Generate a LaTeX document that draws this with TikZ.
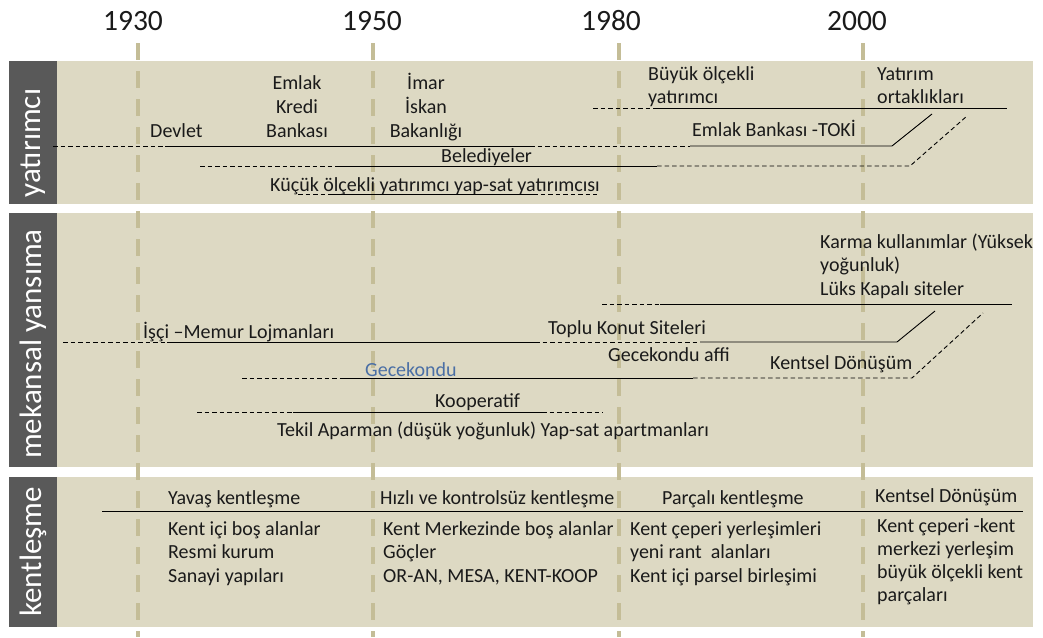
\documentclass[tikz,border=0pt]{standalone}
\usepackage{fontspec}
\setmainfont{Carlito}
\definecolor{panelc}{HTML}{DDD9C3}
\definecolor{darkc}{HTML}{595959}
\definecolor{gridc}{HTML}{C4BD97}
\definecolor{txtc}{HTML}{1A1A1A}
\definecolor{gecec}{HTML}{4A6FA5}
\begin{document}
\begin{tikzpicture}[x=1pt,y=-1pt,
  txt/.style={inner sep=0pt, font=\fontsize{20}{24}\selectfont, text=txtc},
  tl/.style={txt, anchor=base west},
  tc/.style={txt, anchor=base},
  sl/.style={line width=0.9pt, draw=black},
  dl/.style={line width=0.9pt, draw=black, dash pattern=on 4.5pt off 3pt},
  gridline/.style={line width=3.5pt, draw=gridc, dash pattern=on 17pt off 11pt},
  side/.style={inner sep=0pt, rotate=90, text=white, font=\fontsize{31}{36}\selectfont},
  yr/.style={inner sep=0pt, anchor=base, font=\fontsize{29.5}{34}\selectfont, text=txtc}]
\fill[white] (0,0) rectangle (1043,637);
\useasboundingbox (0,0) rectangle (1043,637);
% panels
\fill[panelc] (9,61) rectangle (1033,204);
\fill[panelc] (9,213) rectangle (1033,467);
\fill[panelc] (9,477) rectangle (1033,627);
\fill[darkc] (9,61) rectangle (57,204);
\fill[darkc] (9,213) rectangle (57,467);
\fill[darkc] (9,477) rectangle (57,627);
\node[side] (s1) at (33,143) {yatırımcı};
\node[side] (s2) at (33,344) {mekansal yansıma};
\node[side] (s3) at (33,552) {kentleşme};
% years
\node[yr] (y1930) at (133,30) {1930};
\node[yr] (y1950) at (372,30) {1950};
\node[yr] (y1980) at (611,30) {1980};
\node[yr] (y2000) at (857,30) {2000};
% grid
\foreach \gx in {138,373,619,863}{\draw[gridline] (\gx,43) -- (\gx,637);}
% ---- top panel lines
\draw[dl] (53,146) -- (165,146);
\draw[sl] (165,146) -- (530,146);
\draw[dl] (530,146) -- (690,146);
\draw[sl] (690,146) -- (892,146) -- (932,114);
\draw[dl] (200,166) -- (335,166);
\draw[sl] (335,166) -- (657,166);
\draw[dl] (657,166) -- (910,166) -- (967,116);
\draw[dl] (298,194) -- (328,194);
\draw[sl] (328,194) -- (533,194);
\draw[dl] (533,194) -- (597,194);
\draw[dl] (593,108) -- (657,108);
\draw[sl] (657,108) -- (1007,108);
% ---- middle panel lines
\draw[dl] (602,304) -- (660,304);
\draw[sl] (660,304) -- (1012,304);
\draw[dl] (63,342) -- (167,342);
\draw[sl] (167,342) -- (535,342);
\draw[dl] (535,342) -- (700,342);
\draw[sl] (700,342) -- (897,342) -- (935,311);
\draw[dl] (242,378) -- (340,378);
\draw[sl] (340,378) -- (693,378);
\draw[dl] (693,378) -- (912,378) -- (983,313);
\draw[dl] (197,412) -- (293,412);
\draw[sl] (293,412) -- (542,412);
\draw[dl] (542,412) -- (603,412);
% ---- bottom panel line
\draw[sl] (102,511) -- (1023,511);
% ---- top texts
\node[tc] (emlak1) at (297,89) {Emlak};
\node[tc] (emlak2) at (297,113) {Kredi};
\node[tc] (emlak3) at (297,137) {Bankası};
\node[tc] (imar1) at (426,89) {İmar};
\node[tc] (imar2) at (426,113) {İskan};
\node[tc] (imar3) at (426,137) {Bakanlığı};
\node[tl] (devlet) at (150,137) {Devlet};
\node[tl] (buyuk1) at (648,80) {Büyük ölçekli};
\node[tl] (buyuk2) at (648,103) {yatırımcı};
\node[tl] (yat1) at (877,80) {Yatırım};
\node[tl] (yat2) at (877,103) {ortaklıkları};
\node[tl] (toki) at (692,136) {Emlak Bankası -TOKİ};
\node[tl] (beled) at (441,162.5) {Belediyeler};
\node[tl] (kucuk) at (270,191) {Küçük ölçekli yatırımcı yap-sat yatırımcısı};
% ---- middle texts
\node[tl] (karma1) at (820,248) {Karma kullanımlar (Yüksek};
\node[tl] (karma2) at (820,271.5) {yoğunluk)};
\node[tl] (karma3) at (820,295) {Lüks Kapalı siteler};
\node[tl] (isci) at (143,338) {İşçi –Memur Lojmanları};
\node[tl] (toplu) at (548,334) {Toplu Konut Siteleri};
\node[tl] (affi) at (608,361) {Gecekondu affi};
\node[tl] (kdon1) at (770,369) {Kentsel Dönüşüm};
\node[tl, text=gecec] (gece) at (365,376) {Gecekondu};
\node[tl] (koop) at (435,407) {Kooperatif};
\node[tl] (tekil) at (277,436) {Tekil Aparman (düşük yoğunluk) Yap-sat apartmanları};
% ---- bottom texts
\node[tl] (yavas) at (168,504) {Yavaş kentleşme};
\node[tl] (hizli) at (380,504) {Hızlı ve kontrolsüz kentleşme};
\node[tl] (parcali) at (662,504) {Parçalı kentleşme};
\node[tl] (kdon2) at (875,502) {Kentsel Dönüşüm};
\node[tl] (c1a) at (168,535) {Kent içi boş alanlar};
\node[tl] (c1b) at (168,558.5) {Resmi kurum};
\node[tl] (c1c) at (168,582) {Sanayi yapıları};
\node[tl] (c2a) at (383,535) {Kent Merkezinde boş alanlar};
\node[tl] (c2b) at (383,558.5) {Göçler};
\node[tl] (c2c) at (383,582) {OR-AN, MESA, KENT-KOOP};
\node[tl] (c3a) at (630,535) {Kent çeperi yerleşimleri};
\node[tl] (c3b) at (630,558.5) {yeni rant\ \ alanları};
\node[tl] (c3c) at (630,582) {Kent içi parsel birleşimi};
\node[tl] (c4a) at (877,532) {Kent çeperi -kent};
\node[tl] (c4b) at (877,555) {merkezi yerleşim};
\node[tl] (c4c) at (877,578) {büyük ölçekli kent};
\node[tl] (c4d) at (877,601) {parçaları};
\end{tikzpicture}
\end{document}
